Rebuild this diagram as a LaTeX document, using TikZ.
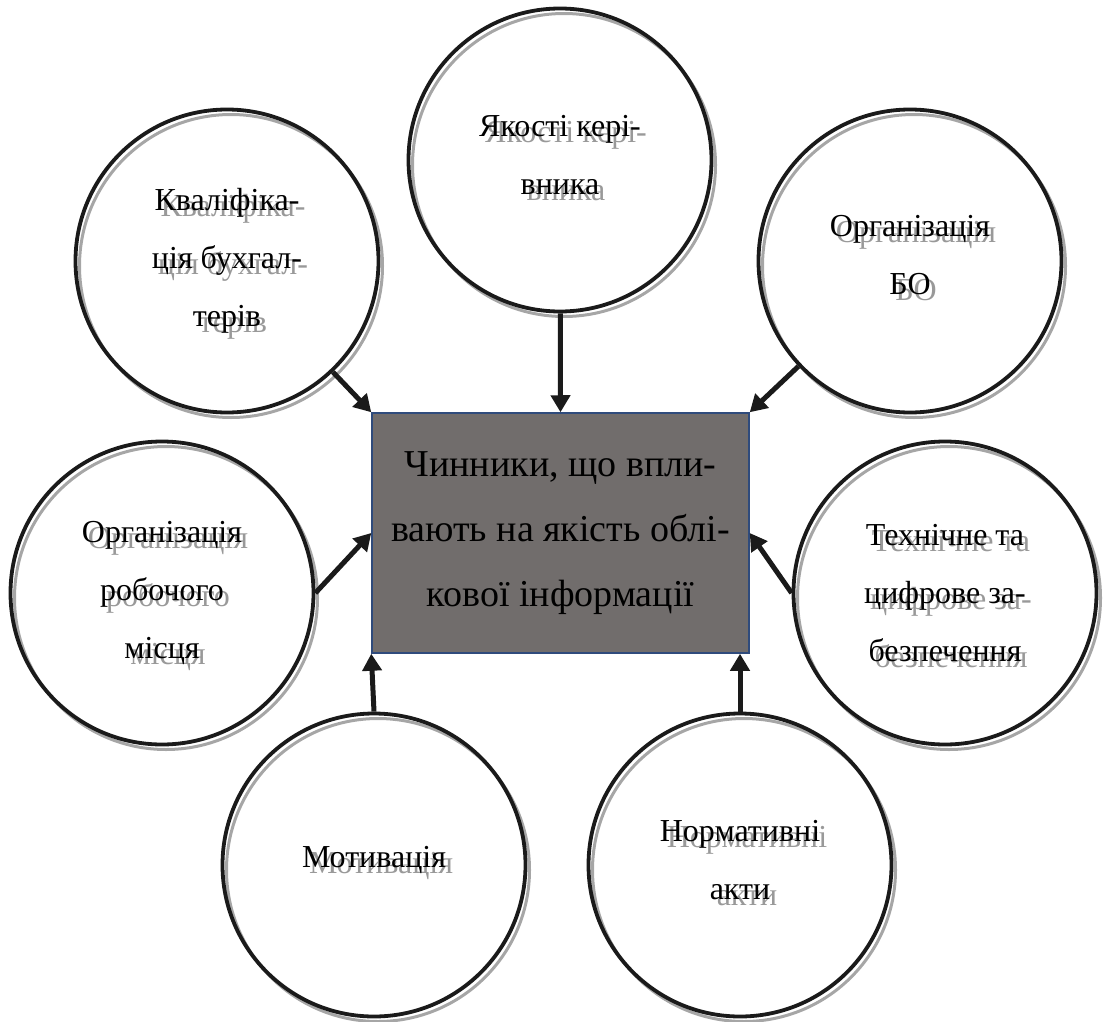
\documentclass[tikz,border=0pt]{standalone}
\usepackage{fontspec}
\setmainfont{Liberation Serif}
\usetikzlibrary{arrows.meta,calc}
\definecolor{boxfill}{HTML}{716D6C}
\definecolor{boxline}{HTML}{2F4B7C}
\definecolor{ringgrey}{HTML}{A6A6A6}
\definecolor{textshadow}{HTML}{999999}
\definecolor{ink}{HTML}{1A1A1A}
\begin{document}
\begin{tikzpicture}[x=1pt,y=-1pt,
 factor/.style={circle, draw=ink, line width=3.8pt, minimum size=303pt, inner sep=0pt},
 ring/.style={circle, draw=ringgrey, line width=3pt, minimum size=303pt, inner sep=0pt},
 lbl/.style={align=center, font=\fontsize{32}{58}\selectfont, text=black, inner sep=0pt},
 lblshadow/.style={lbl, text=textshadow},
 link/.style={line width=5pt, draw=ink, -{Triangle[length=17pt,width=19pt]}},
]
\useasboundingbox (0,0) rectangle (1105,1022);

% central box
\node[draw=boxline, fill=boxfill, line width=1.5pt, minimum width=377pt, minimum height=240pt,
  inner sep=0pt, align=center, font=\fontsize{38}{65}\selectfont] (mid) at (560.5,533)
  {Чинники, що впли-\\вають на якість облі-\\кової інформації};

% shadow rings
\node[ring] (kvR) at (231,266) {};
\node[ring] (topR) at (564,165) {};
\node[ring] (boR) at (914,266) {};
\node[ring] (robR) at (166,598) {};
\node[ring] (techR) at (949,598) {};
\node[ring] (motR) at (378,870) {};
\node[ring] (normR) at (744,870) {};

% factor circles
\node[factor] (kv) at (227,261) {};
\node[factor] (top) at (560,160) {};
\node[factor] (bo) at (910,261) {};
\node[factor] (rob) at (162,593) {};
\node[factor] (tech) at (945,593) {};
\node[factor] (mot) at (374,865) {};
\node[factor] (norm) at (740,865) {};

% shadow texts
\node[lblshadow] (kvS) at (233,267) {Кваліфіка-\\ція бухгал-\\терів};
\node[lblshadow] (topS) at (566,161) {Якості кері-\\вника};
\node[lblshadow] (boS) at (916,261) {Організація\\БО};
\node[lblshadow] (robS) at (168,599) {Організація\\робочого\\місця};
\node[lblshadow] (techS) at (951,599) {Технічне та\\цифрове за-\\безпечення};
\node[lblshadow] (motS) at (381,866) {Мотивація};
\node[lblshadow] (normS) at (747,866) {Нормативні\\акти};

% texts
\node[lbl] (kvL) at (227,261) {Кваліфіка-\\ція бухгал-\\терів};
\node[lbl] (topL) at (560,155) {Якості кері-\\вника};
\node[lbl] (boL) at (910,255) {Організація\\БО};
\node[lbl] (robL) at (162,593) {Організація\\робочого\\місця};
\node[lbl] (techL) at (945,593) {Технічне та\\цифрове за-\\безпечення};
\node[lbl] (motL) at (374,860) {Мотивація};
\node[lbl] (normL) at (740,860) {Нормативні\\акти};

% connectors
\draw[link] (kv) -- (mid.north west);
\draw[link] (top) -- (mid.north);
\draw[link] (bo) -- (mid.north east);
\draw[link] (rob.east) -- (mid.west);
\draw[link] (tech.west) -- (mid.east);
\draw[link] (mot.north) -- (mid.south west);
\draw[link] (norm.north) -- (norm.north |- mid.south);
\end{tikzpicture}
\end{document}
